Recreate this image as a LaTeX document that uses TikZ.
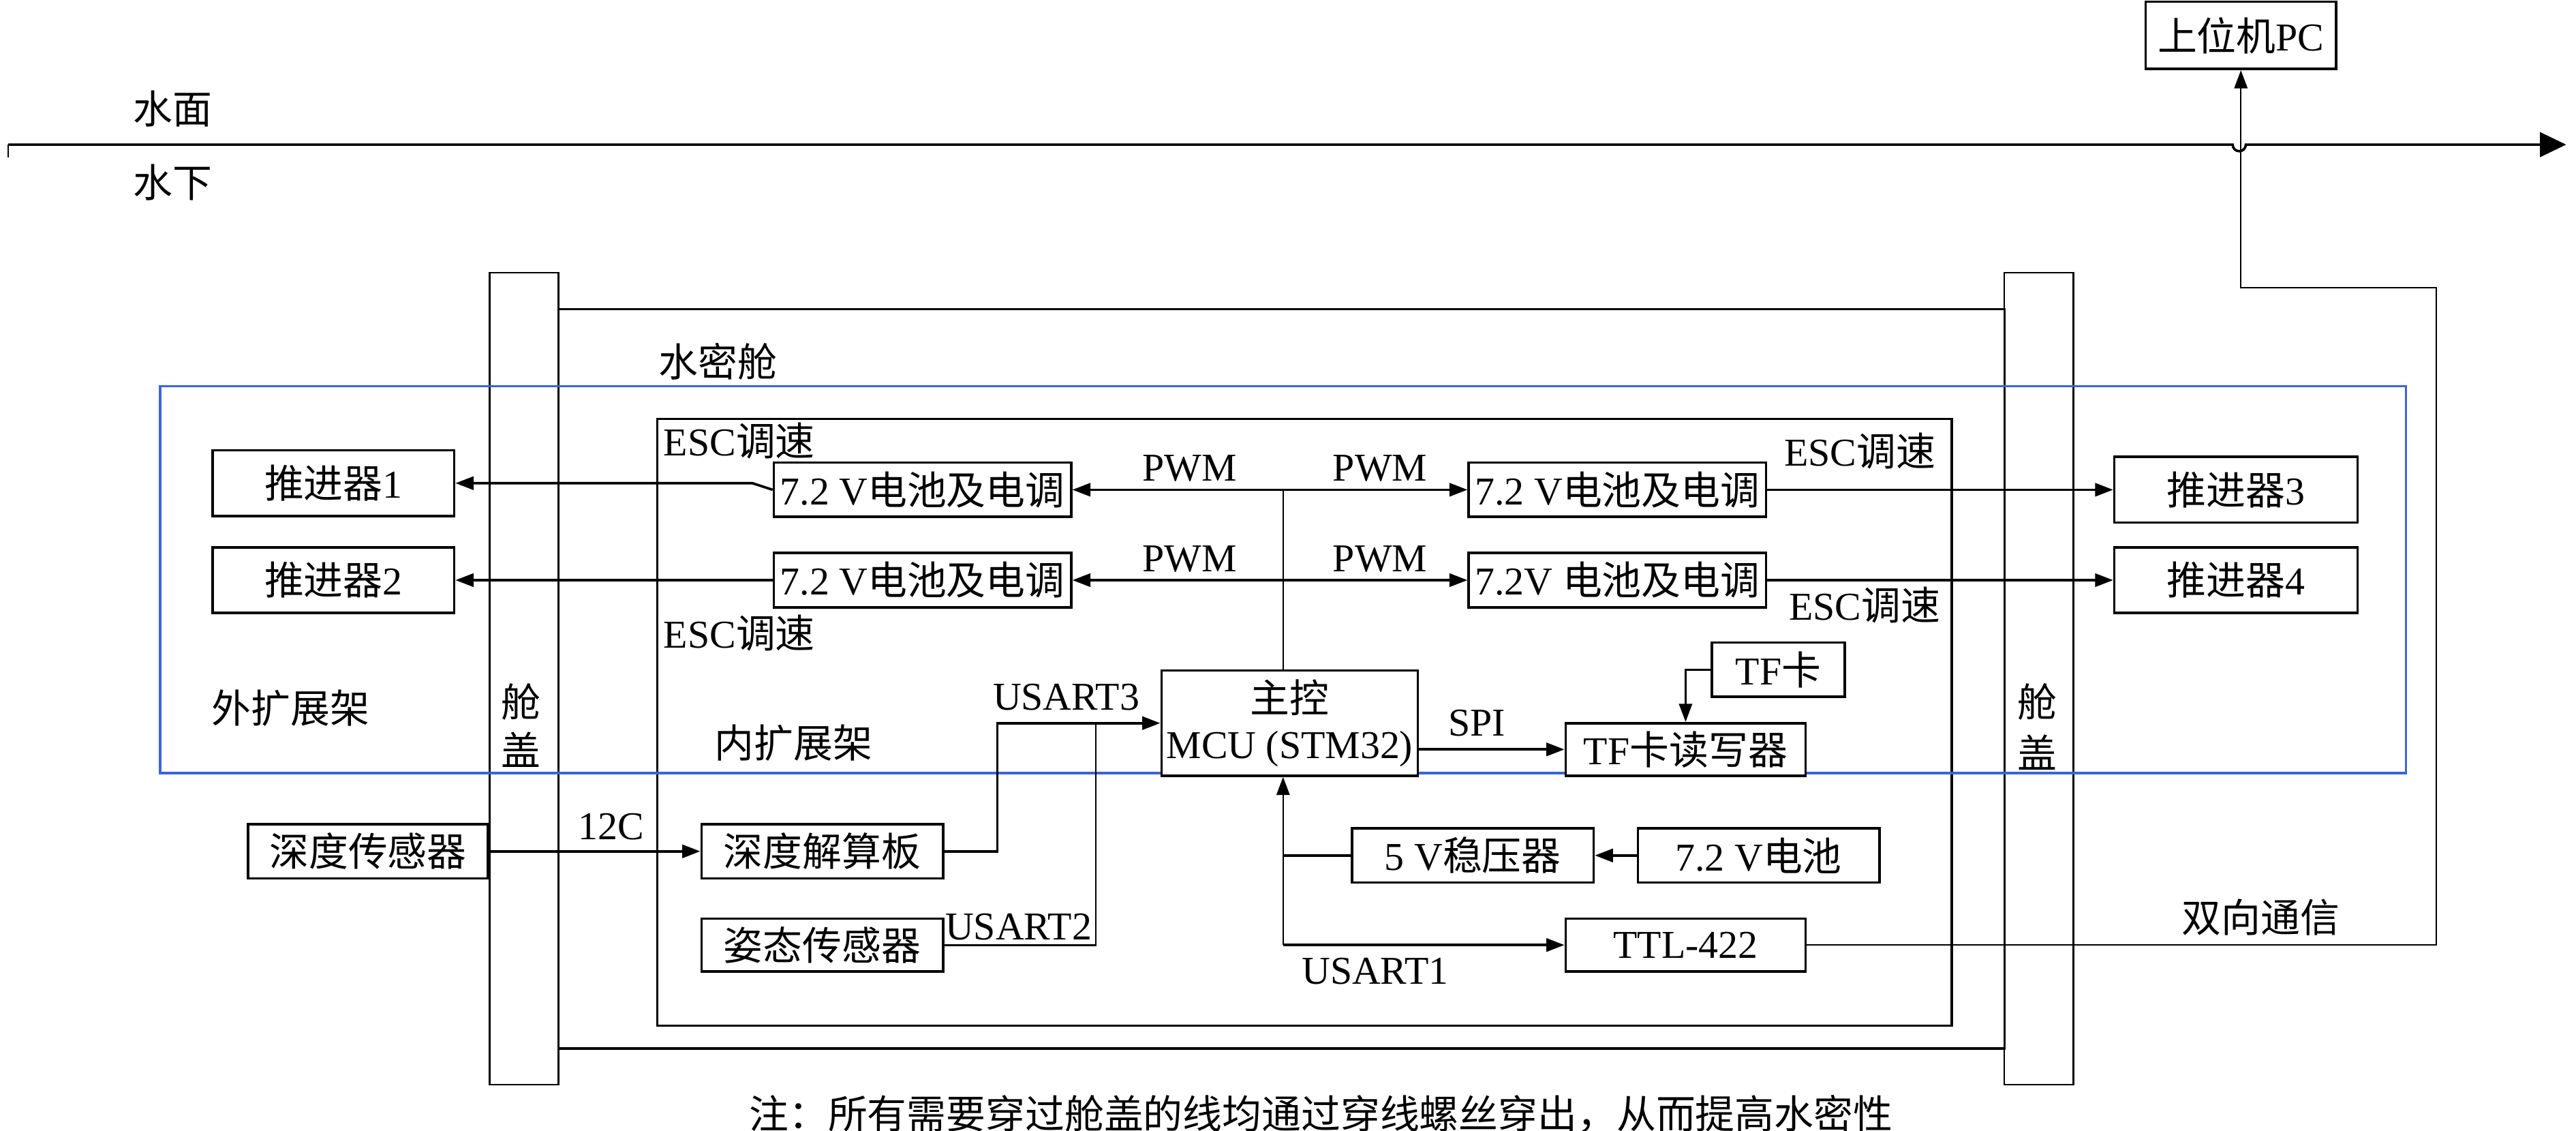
\documentclass[tikz,border=0pt]{standalone}
\usepackage{fontspec}
\setmainfont{Liberation Serif}
\newfontfamily\cjk{Noto Sans CJK SC}
\newcommand\zh[1]{{\cjk #1}}
\usetikzlibrary{arrows.meta}
\definecolor{frameblue}{RGB}{60,100,220}
\begin{document}
\begin{tikzpicture}[x=1pt,y=-1pt,
  box/.style={draw, line width=1.5pt, fill=white, inner sep=0pt, font=\fontsize{24}{28}\selectfont},
  lbl/.style={inner sep=0pt, font=\fontsize{24}{28}\selectfont},
  arr/.style={line width=1.5pt, -{Triangle[length=11pt,width=8pt]}},
  thinarr/.style={line width=1pt, -{Triangle[length=11pt,width=8pt]}},
  thinline/.style={line width=1pt},
  thickline/.style={line width=1.5pt}]
\useasboundingbox (0,0) rectangle (1568,688);
% frames
\draw[thinline] (298,166) rectangle (340,660);
\draw[thinline] (1220,166) rectangle (1262,660);
\draw[line width=1.3pt] (340,188) rectangle (1220,638);
\draw[line width=1.3pt] (400,255) rectangle (1188,624);
\draw[frameblue, line width=1.5pt] (97.5,235) rectangle (1464.5,470.5);
% water line
\coordinate (wl) at (5,88);
\coordinate (wr) at (1562,88);
\draw[thinline] (5,96) -- (wl);
\draw[line width=1.5pt, -{Triangle[length=16pt,width=15pt]}] (wl) -- (1359,88) arc[start angle=180, end angle=360, radius=4pt] -- (wr);
% boxes
\node[box, minimum width=116pt, minimum height=41pt] (pc) at (1364,21.5) {\zh{上位机}PC};
\node[box, minimum width=147pt, minimum height=40pt] (t1) at (203,294) {\zh{推进器}1};
\node[box, minimum width=147pt, minimum height=40pt] (t2) at (203,353) {\zh{推进器}2};
\node[box, minimum width=148pt, minimum height=40pt] (t3) at (1361,298) {\zh{推进器}3};
\node[box, minimum width=148pt, minimum height=40pt] (t4) at (1361,353) {\zh{推进器}4};
\node[box, minimum width=181pt, minimum height=33pt] (b1) at (561.5,298) {7.2 V\zh{电池及电调}};
\node[box, minimum width=181pt, minimum height=33pt] (b2) at (561.5,353) {7.2 V\zh{电池及电调}};
\node[box, minimum width=181pt, minimum height=33pt] (b3) at (984.5,298) {7.2 V\zh{电池及电调}};
\node[box, minimum width=181pt, minimum height=33pt] (b4) at (984.5,353) {7.2V \zh{电池及电调}};
\node[box, minimum width=156pt, minimum height=64pt, align=center] (mcu) at (785,440) {\zh{主控}\\MCU (STM32)};
\node[box, minimum width=146pt, minimum height=32pt] (tfrw) at (1026,456) {TF\zh{卡读写器}};
\node[box, minimum width=81pt, minimum height=33pt] (tf) at (1082.5,407.5) {TF\zh{卡}};
\node[box, minimum width=146pt, minimum height=33pt] (ds) at (224,518) {\zh{深度传感器}};
\node[box, minimum width=147pt, minimum height=33pt] (dsb) at (500.5,518) {\zh{深度解算板}};
\node[box, minimum width=147pt, minimum height=32pt] (att) at (500.5,575) {\zh{姿态传感器}};
\node[box, minimum width=147pt, minimum height=33pt] (vreg) at (896.5,520.5) {5 V\zh{稳压器}};
\node[box, minimum width=147pt, minimum height=33pt] (bat) at (1070.5,520.5) {7.2 V\zh{电池}};
\node[box, minimum width=146pt, minimum height=32pt] (ttl) at (1026,575) {TTL-422};
% coordinates
\coordinate (bus) at (781,298);
\coordinate (bus2) at (781,353);
\coordinate (k1) at (458,294);
\coordinate (u3) at (607,440);
\coordinate (u2) at (667,440);
\coordinate (pj) at (781,520.5);
\coordinate (pl) at (781,575);
\coordinate (rc) at (1483,575);
\coordinate (rt) at (1483,175);
% connectors
\draw[thinline] (mcu.north -| bus) -- (bus);
\draw[arr] (bus) -- (b1);
\draw[arr] (bus) -- (b3);
\draw[arr] (bus2) -- (b2);
\draw[arr] (bus2) -- (b4);
\draw[arr] (b1.west) -- (k1) -- (k1 -| t1.east);
\draw[arr] (b2) -- (t2);
\draw[arr] (b3) -- (t3);
\draw[arr] (b4) -- (t4);
\draw[arr] (ds) -- (dsb);
\draw[arr] (dsb.east) -| (u3) -- (mcu.west);
\draw[line width=1.2pt] (att.east) -| (u2);
\draw[arr] (mcu.east |- tfrw.west) -- (tfrw.west);
\draw[thinarr] (tf.west) -| (tfrw.north);
\draw[arr] (bat) -- (vreg);
\draw[thickline] (vreg.west) -- (pj);
\draw[thinarr] (pl) -- (mcu.south -| pl);
\draw[arr] (pl) -- (ttl.west);
\draw[thinarr] (ttl.east) -- (rc) -- (rt) -| (pc.south);
% labels
\node[lbl] at (105,66) {\zh{水面}};
\node[lbl] at (105,111) {\zh{水下}};
\node[lbl] at (437,220) {\zh{水密舱}};
\node[lbl] at (450,268) {ESC\zh{调速}};
\node[lbl] at (450,385) {ESC\zh{调速}};
\node[lbl] at (1132,274.5) {ESC\zh{调速}};
\node[lbl] at (1135,368) {ESC\zh{调速}};
\node[lbl] at (724,285) {PWM};
\node[lbl] at (840,285) {PWM};
\node[lbl] at (724,340) {PWM};
\node[lbl] at (840,340) {PWM};
\node[lbl] at (649,424) {USART3};
\node[lbl] at (620,564) {USART2};
\node[lbl] at (837,591) {USART1};
\node[lbl] at (899,440) {SPI};
\node[lbl] at (372,503) {12C};
\node[lbl] at (483,452) {\zh{内扩展架}};
\node[lbl] at (177,431) {\zh{外扩展架}};
\node[lbl] at (317,427) {\zh{舱}};
\node[lbl] at (317,456) {\zh{盖}};
\node[lbl] at (1240,427) {\zh{舱}};
\node[lbl] at (1240,458) {\zh{盖}};
\node[lbl] at (1376,558) {\zh{双向通信}};
\node[lbl] at (804,678) {\zh{注：所有需要穿过舱盖的线均通过穿线螺丝穿出，从而提高水密性}};
\end{tikzpicture}
\end{document}
